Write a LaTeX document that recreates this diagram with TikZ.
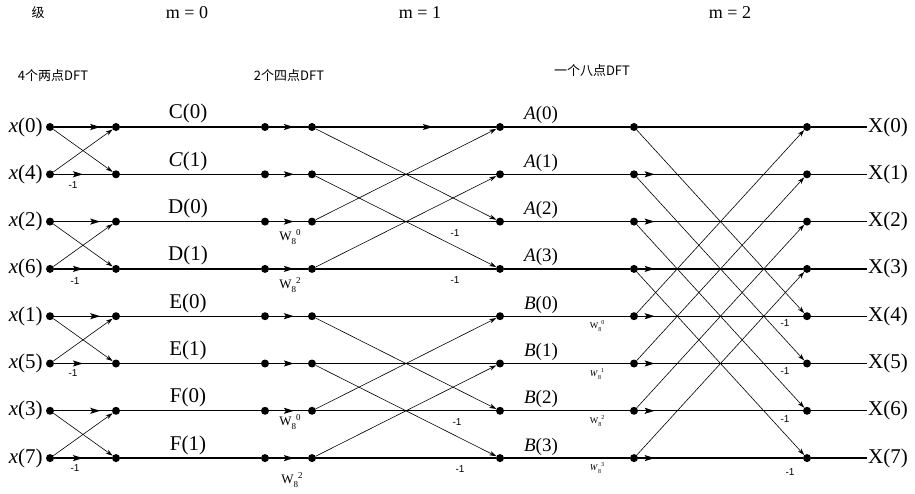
\documentclass[tikz,border=0pt]{standalone}
\usepackage{fontspec}
\setmainfont{Liberation Serif}
\newfontfamily\cjk{Noto Sans CJK SC}
\newfontfamily\lsans{Liberation Sans}
\usetikzlibrary{arrows.meta,decorations.markings}
\newcommand\twf[4]{#1\raisebox{-0.3em}{\fontsize{#4}{#4}\selectfont #2}\raisebox{0.45em}{\fontsize{#4}{#4}\selectfont #3}}
\begin{document}
\begin{tikzpicture}[x=1pt,y=-1pt,
  dot/.style={circle,fill=black,inner sep=0pt,minimum size=8pt},
  hline/.style={line width=1.3pt},
  xline/.style={line width=0.6pt,-{Stealth[length=7pt,width=4.5pt]}},
  midarrow/.style={hline,postaction={decorate},decoration={markings,mark=at position #1 with {\arrow{Stealth[length=10pt,width=6pt,inset=2pt]}}}},
  biglab/.style={inner sep=0pt,font=\fontsize{21}{21}\selectfont},
  alab/.style={inner sep=0pt,font=\fontsize{19}{19}\selectfont},
  head/.style={inner sep=0pt,font=\fontsize{18}{18}\selectfont},
  cjklab/.style={inner sep=0pt,font=\cjk\fontsize{13}{13}\selectfont},
  neg/.style={inner sep=0pt,font=\lsans\fontsize{10}{10}\selectfont},
  wlab/.style={inner sep=0pt,font=\fontsize{13}{13}\selectfont},
  wsmall/.style={inner sep=0pt,font=\fontsize{9}{9}\selectfont}
]
\useasboundingbox (0,0) rectangle (915,494);

% dots
\foreach \i in {0,...,7}{
  \pgfmathsetmacro\yy{127+47.3*\i}
  \foreach \c/\xx in {0/50,1/116,2/265,3/312,4/500,5/634,6/807}{
    \node[dot] (n\c-\i) at (\xx,\yy) {};
  }
  \coordinate (e\i) at (867,\yy);
}

% horizontal lines
\foreach \i in {0,...,7}{
  \draw[hline] (n1-\i) -- (n2-\i);
  \draw[hline] (n4-\i) -- (n5-\i);
  \draw[hline] (n6-\i) -- (e\i);
  \draw[midarrow=0.64] (n2-\i) -- (n3-\i);
}
\foreach \i in {0,2,4,6} \draw[midarrow=0.8] (n0-\i) -- (n1-\i);
\foreach \i in {1,3,5,7} \draw[midarrow=0.5] (n0-\i) -- (n1-\i);
\draw[midarrow=0.65] (n3-0) -- (n4-0);
\foreach \i in {1,...,7} \draw[hline] (n3-\i) -- (n4-\i);
\draw[hline] (n5-0) -- (n6-0);
\foreach \i in {1,...,7} \draw[midarrow=0.1] (n5-\i) -- (n6-\i);

% butterflies
\foreach \a/\b in {0/1,2/3,4/5,6/7}{
  \draw[xline] (n0-\a) -- (n1-\b);
  \draw[xline] (n0-\b) -- (n1-\a);
}
\foreach \a/\b in {0/2,1/3,4/6,5/7}{
  \draw[xline] (n3-\a) -- (n4-\b);
  \draw[xline] (n3-\b) -- (n4-\a);
}
\foreach \a/\b in {0/4,1/5,2/6,3/7}{
  \draw[xline] (n5-\a) -- (n6-\b);
  \draw[xline] (n5-\b) -- (n6-\a);
}

% input labels
\foreach \i/\t in {0/0,1/4,2/2,3/6,4/1,5/5,6/3,7/7}
  \node[biglab,anchor=east] (xl\i) at ([xshift=-3pt]n0-\i.west) {\textit{x}(\t)};

% intermediate labels
\foreach \i/\t in {0/{C(0)},1/{\textit{C}(1)},2/{D(0)},3/{D(1)},4/{E(0)},5/{E(1)},6/{F(0)},7/{F(1)}}
  \node[biglab,anchor=base] (cl\i) at ([yshift=8pt]188,0 |- n1-\i) {\t};
\foreach \i/\t in {0/{\textit{A}(0)},1/{\textit{A}(1)},2/{\textit{A}(2)},3/{\textit{A}(3)},4/{\textit{B}(0)},5/{\textit{B}(1)},6/{\textit{B}(2)},7/{\textit{B}(3)}}
  \node[alab,anchor=base] (al\i) at ([yshift=7pt]541,0 |- n4-\i) {\t};
\foreach \i in {0,...,7}
  \node[biglab,anchor=west] (Xl\i) at ([xshift=1pt]e\i) {X(\i)};

% -1 labels
\node[neg] (m1) at (73,185) {-1};
\node[neg] (m2) at (75,281) {-1};
\node[neg] (m3) at (73,373) {-1};
\node[neg] (m4) at (75,468) {-1};
\node[neg] (m5) at (455,233) {-1};
\node[neg] (m6) at (455,280) {-1};
\node[neg] (m7) at (457,422) {-1};
\node[neg] (m8) at (460,469) {-1};
\node[neg] (m9) at (785,323) {-1};
\node[neg] (m10) at (785,371) {-1};
\node[neg] (m11) at (785,419) {-1};
\node[neg] (m12) at (790,472) {-1};

% twiddle labels
\node[wlab] (w1) at (290,237) {\twf{W}{8}{0}{9}};
\node[wlab] (w2) at (290,285) {\twf{W}{8}{2}{9}};
\node[wlab] (w3) at (290,422) {\twf{W}{8}{0}{9}};
\node[wlab] (w4) at (292,480) {\twf{W}{8}{2}{9}};
\node[wsmall] (w5) at (597,326) {\twf{W}{8}{0}{6}};
\node[wsmall] (w6) at (597,374) {\twf{\textit{W}}{8}{1}{6}};
\node[wsmall] (w7) at (597,421) {\twf{W}{8}{2}{6}};
\node[wsmall] (w8) at (597,468) {\twf{\textit{W}}{8}{3}{6}};

% headings
\node[cjklab] (h0) at (38,13) {级};
\node[head] (h1) at (187,13) {m = 0};
\node[head] (h2) at (420,13) {m = 1};
\node[head] (h3) at (730,13) {m = 2};
\node[cjklab] (h4) at (53,76) {4个两点DFT};
\node[cjklab] (h5) at (289,76) {2个四点DFT};
\node[cjklab] (h6) at (592,71) {一个八点DFT};
\end{tikzpicture}
\end{document}
